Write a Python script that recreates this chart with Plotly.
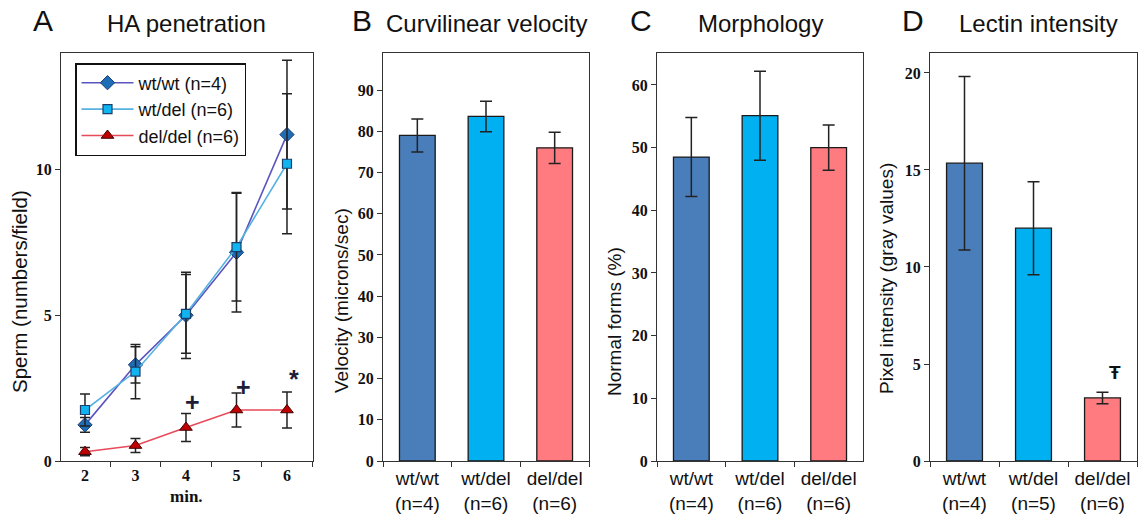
import plotly.graph_objects as go

# ---------------- data ----------------
minutes = ["2", "3", "4", "5", "6"]
wtwt_ha = [1.24, 3.30, 5.00, 7.16, 11.20]
wtwt_ha_err = [0.25, 0.62, 1.48, 2.05, 2.55]
wtdel_ha = [1.75, 3.07, 5.05, 7.34, 10.20]
wtdel_ha_err = [0.55, 0.93, 1.35, 1.85, 2.40]
deldel_ha = [0.32, 0.53, 1.15, 1.75, 1.75]
deldel_ha_err = [0.14, 0.24, 0.48, 0.58, 0.62]

series_names = ["wt/wt (n=4)", "wt/del (n=6)", "del/del (n=6)"]

groups_bc = ["wt/wt<br>(n=4)", "wt/del<br>(n=6)", "del/del<br>(n=6)"]
groups_d = ["wt/wt<br>(n=4)", "wt/del<br>(n=5)", "del/del<br>(n=6)"]

velocity = [79.0, 83.6, 76.0]
velocity_err = [4.0, 3.7, 3.8]

morphology = [48.5, 55.1, 50.0]
morphology_err = [6.3, 7.1, 3.6]

lectin = [15.35, 12.0, 3.25]
lectin_err = [4.47, 2.4, 0.3]

bar_colors = ["#4a7ebb", "#00b0f0", "#ff7b80"]

# significance marks (panel A: minute, value) and panel D (group index, value)
sig_a = [("4", 2.02, "+"), ("5", 2.53, "+"), ("6", 2.82, "*")]
sig_d = (2, 4.55, "Ŧ")

# ---------------- figure ----------------
W, H = 1145, 515
SANS = "Liberation Sans"
SERIF = "Liberation Serif"

fig = go.Figure()

err_style = dict(type="data", color="#222222", thickness=1.5, width=5)

fig.add_trace(go.Scatter(
    x=minutes, y=wtwt_ha, name=series_names[0], mode="lines+markers",
    line=dict(color="#5a55c0", width=1.6),
    marker=dict(symbol="diamond", size=11, color="#1f6db5", line=dict(color="#1a3f7a", width=1)),
    error_y=dict(array=wtwt_ha_err, **err_style), xaxis="x", yaxis="y"))
fig.add_trace(go.Scatter(
    x=minutes, y=wtdel_ha, name=series_names[1], mode="lines+markers",
    line=dict(color="#56b2e2", width=1.6),
    marker=dict(symbol="square", size=9, color="#10b4f0", line=dict(color="#1a3f6a", width=1.2)),
    error_y=dict(array=wtdel_ha_err, **err_style), xaxis="x", yaxis="y"))
fig.add_trace(go.Scatter(
    x=minutes, y=deldel_ha, name=series_names[2], mode="lines+markers",
    line=dict(color="#e84a5a", width=1.6),
    marker=dict(symbol="triangle-up", size=11, color="#c00000", line=dict(color="#400000", width=1)),
    error_y=dict(array=deldel_ha_err, **err_style), xaxis="x", yaxis="y"))

bar_err = dict(type="data", color="#222222", thickness=1.5, width=6)
for vals, errs, cats, ax in [(velocity, velocity_err, groups_bc, "2"),
                             (morphology, morphology_err, groups_bc, "3"),
                             (lectin, lectin_err, groups_d, "4")]:
    fig.add_trace(go.Bar(
        x=cats, y=vals, width=0.52, showlegend=False,
        marker=dict(color=bar_colors, line=dict(color="#1a1a1a", width=1.3)),
        error_y=dict(array=errs, **bar_err),
        xaxis="x" + ax, yaxis="y" + ax))

px = lambda p: p / W
py = lambda p: (H - p) / H

ydom = [py(461), py(53)]
doms = [(61, 313), (383, 589), (657, 863), (930, 1137)]
yranges = [[0, 14.0], [0, 99], [0, 65.1], [0, 21.03]]
ydticks = [5, 10, 10, 5]

frame = dict(showline=True, linecolor="#333333", linewidth=1.2, mirror=True,
             showgrid=False, zeroline=False, automargin=False)

layout = dict(
    width=W, height=H, margin=dict(l=0, r=0, t=0, b=0),
    paper_bgcolor="white", plot_bgcolor="white",
    bargap=0.48,
    showlegend=True,
    legend=dict(x=px(75), y=py(63), xanchor="left", yanchor="top",
                bordercolor="#111111", borderwidth=1.5, bgcolor="white",
                font=dict(family=SANS, size=18, color="#111111"),
                tracegroupgap=0, itemwidth=52),
)

for i, (d, yr, dt) in enumerate(zip(doms, yranges, ydticks)):
    k = "" if i == 0 else str(i + 1)
    xa = dict(domain=[px(d[0]), px(d[1])], anchor="y" + k, type="category",
              tickson="boundaries", ticks="outside", ticklen=5, tickcolor="#333333",
              **frame)
    if i == 0:
        xa.update(range=[-0.475, 4.515],
                  tickfont=dict(family=SERIF, size=16, weight="bold", color="#111111"))
    else:
        xa.update(range=[-0.5, 2.5],
                  tickfont=dict(family=SANS, size=19, color="#111111"))
    ya = dict(domain=ydom, anchor="x" + k, range=yr, dtick=dt, tick0=0,
              ticks="outside", ticklen=5, tickcolor="#333333",
              tickfont=dict(family=SERIF, size=16, weight="bold", color="#111111"),
              **frame)
    layout["xaxis" + k] = xa
    layout["yaxis" + k] = ya

fig.update_layout(**layout)

ann = []
C = dict(xanchor="center", yanchor="middle", showarrow=False)
# panel letters and titles
for letter, lx, title, tx in [("A", 43, "HA penetration", 187),
                              ("B", 362, "Curvilinear velocity", 486),
                              ("C", 641, "Morphology", 760),
                              ("D", 913, "Lectin intensity", 1038)]:
    ann.append(dict(x=px(lx), y=py(21), xref="paper", yref="paper", text=letter,
                    font=dict(family=SANS, size=30, color="#111111"), **C))
    ann.append(dict(x=px(tx), y=py(23), xref="paper", yref="paper", text=title,
                    font=dict(family=SANS, size=24, color="#111111"), **C))

# y-axis titles
for text, x, yc, fs in [("Sperm (numbers/field)", 20, 292, 20.5),
                        ("Velocity (microns/sec)", 341, 301, 19),
                        ("Normal forms (%)", 614, 322, 19),
                        ("Pixel intensity (gray values)", 886, 279, 19)]:
    ann.append(dict(x=px(x), y=py(yc), xref="paper", yref="paper", text=text,
                    textangle=-90, font=dict(family=SANS, size=fs, color="#111111"), **C))

# x-axis title for A
ann.append(dict(x=px(187), y=py(496), xref="paper", yref="paper", text="min.",
                font=dict(family=SERIF, size=17, weight="bold", color="#111111"), **C))

# significance marks
for (m, v, s) in sig_a:
    ann.append(dict(x=minutes.index(m), y=v, xref="x", yref="y", text=s, xshift=7,
                    font=dict(family=SANS, size=25, weight="bold", color="#1e1e38"), **C))
ann.append(dict(x=sig_d[0], y=sig_d[1], xref="x4", yref="y4", text=sig_d[2],
                xshift=12, font=dict(family=SANS, size=19, weight="bold", color="#111111"), **C))

fig.update_layout(annotations=ann)

fig.write_html("out.html", config={"displayModeBar": False},
               post_script="document.body.style.margin='0px';document.body.style.padding='0px';")
